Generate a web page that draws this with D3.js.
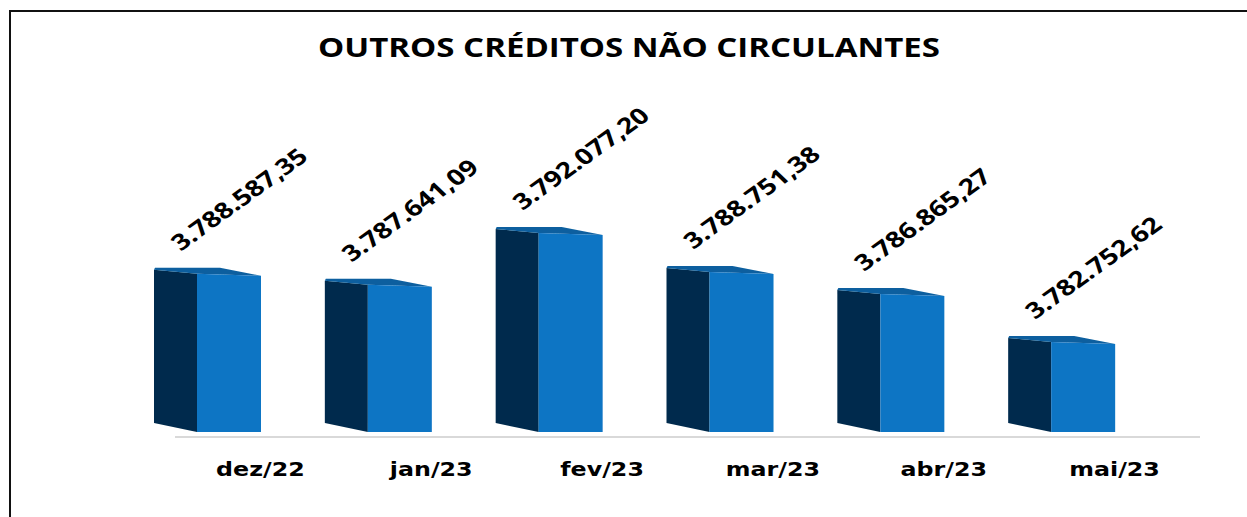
<!DOCTYPE html>
<html>
<head>
<meta charset="utf-8">
<script src="https://cdn.jsdelivr.net/npm/d3@7"></script>
<style>
  body { margin: 0; background: #fff; }
  svg { display: block; }
</style>
</head>
<body>
<script>
// chart data
var months = ["dez/22", "jan/23", "fev/23", "mar/23", "abr/23", "mai/23"];
var values = [3788587.35, 3787641.09, 3792077.20, 3788751.38, 3786865.27, 3782752.62];
var valueLabels = ["3.788.587,35", "3.787.641,09", "3.792.077,20", "3.788.751,38", "3.786.865,27", "3.782.752,62"];
var chartTitle = "OUTROS CRÉDITOS NÃO CIRCULANTES";

var width = 1247, height = 517;
var baseY = 432;      // floor of the bars
var axisY = 437;      // grey base line

var svg = d3.select("body").append("svg")
  .attr("width", width)
  .attr("height", height);

// soften edges a little, like the picture
var defs = svg.append("defs");
defs.append("filter").attr("id", "soft")
  .append("feGaussianBlur").attr("stdDeviation", 0.6);

// frame (runs off the right and bottom)
svg.append("rect")
  .attr("x", 10).attr("y", 11)
  .attr("width", 1400).attr("height", 700)
  .attr("fill", "none")
  .attr("stroke", "#111")
  .attr("stroke-width", 2);

// title
svg.append("text")
  .attr("x", 629).attr("y", 57)
  .attr("text-anchor", "middle")
  .attr("font-family", "'Open Sans', sans-serif")
  .attr("font-weight", 700)
  .attr("font-size", 27)
  .attr("textLength", 622)
  .attr("lengthAdjust", "spacingAndGlyphs")
  .attr("fill", "#000")
  .text(chartTitle);

// scales
var xScale = d3.scaleBand()
  .domain(months)
  .range([175, 1200]);

var yScale = d3.scaleLinear()
  .domain([3774541, 3792077.20])
  .range([baseY, 227]);

// base line
svg.append("line")
  .attr("x1", 175).attr("x2", 1200)
  .attr("y1", axisY).attr("y2", axisY)
  .attr("stroke", "#d9d9d9")
  .attr("stroke-width", 2);

// x axis labels (stretched like the source)
var xAxis = d3.axisBottom(xScale).tickSize(0).tickPadding(0);
var axisG = svg.append("g")
  .attr("transform", "translate(0," + axisY + ")")
  .call(xAxis);
axisG.select(".domain").remove();
axisG.selectAll(".tick text")
  .attr("y", 39)
  .attr("font-family", "'DejaVu Sans', sans-serif")
  .attr("font-weight", 700)
  .attr("font-size", 19)
  .attr("fill", "#000")
  .attr("transform", "scale(1.25,1)")
  .attr("dy", 0);
// scale moves x, so recentre each tick group
axisG.selectAll(".tick").each(function(d) {
  var cx = xScale(d) + xScale.bandwidth() / 2;
  d3.select(this).attr("transform", "translate(" + cx + ",0)");
});

var data = months.map(function(m, i) {
  return { month: m, value: values[i], label: valueLabels[i] };
});

// 3D-ish bars: side face, top cap, front face
var bars = svg.selectAll(".bar")
  .data(data)
  .enter().append("g")
  .attr("class", "bar")
  .attr("filter", "url(#soft)");

function x0(d) { return xScale(d.month) - 21; }

bars.append("polygon")
  .attr("fill", "#012c4d")
  .attr("points", function(d) {
    var x = x0(d), t = yScale(d.value);
    return [[x, t + 2], [x + 43, t + 6], [x + 43, baseY], [x, baseY - 9]].join(" ");
  });

bars.append("polygon")
  .attr("fill", "#0a5f9f")
  .attr("points", function(d) {
    var x = x0(d), t = yScale(d.value);
    return [[x + 1, t], [x + 66, t], [x + 107, t + 8], [x + 43, t + 6], [x, t + 2]].join(" ");
  });

bars.append("polygon")
  .attr("fill", "#0b74c4")
  .attr("points", function(d) {
    var x = x0(d), t = yScale(d.value);
    return [[x + 43, t + 6], [x + 107, t + 8], [x + 107, baseY], [x + 43, baseY]].join(" ");
  });

// rotated value labels
svg.selectAll(".vlabel")
  .data(data)
  .enter().append("g")
  .attr("class", "vlabel")
  .attr("transform", function(d) {
    return "translate(" + (x0(d) + 27) + "," + (yScale(d.value) - 16) + ") scale(1.2,1) rotate(-41)";
  })
  .append("text")
  .attr("font-family", "'Open Sans', sans-serif")
  .attr("font-weight", 700)
  .attr("font-size", 22)
  .attr("textLength", 142)
  .attr("lengthAdjust", "spacingAndGlyphs")
  .attr("fill", "#000")
  .text(function(d) { return d.label; });
</script>
</body>
</html>
